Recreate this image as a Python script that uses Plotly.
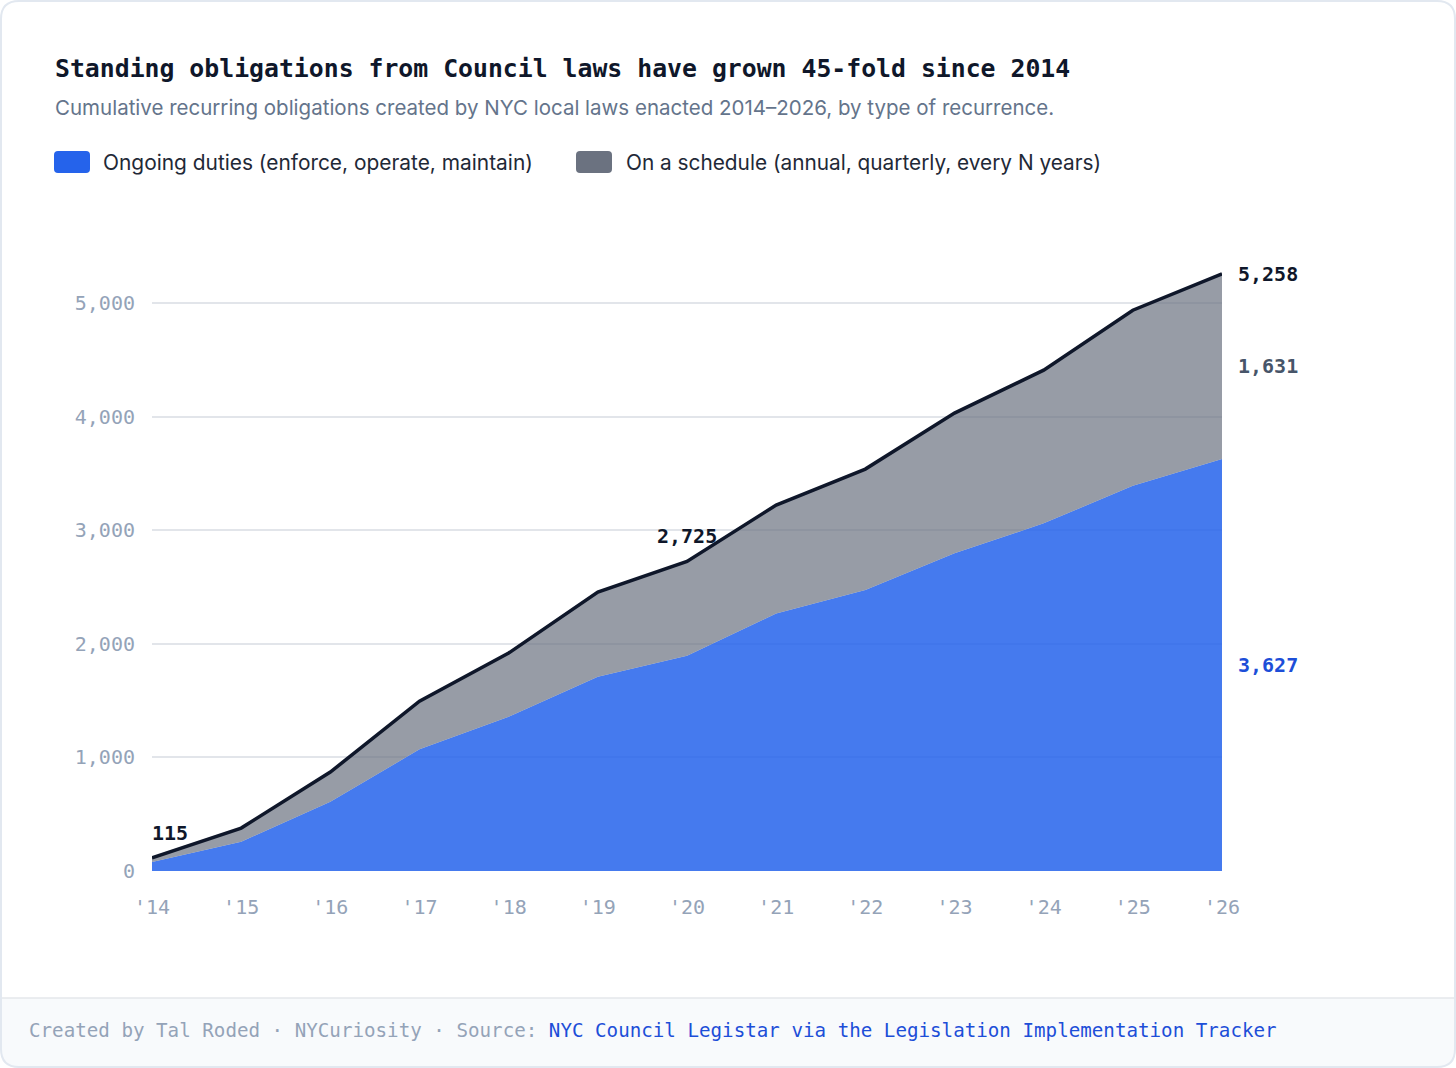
import plotly.graph_objects as go

# ---------------- data ----------------
years = [2014, 2015, 2016, 2017, 2018, 2019, 2020, 2021, 2022, 2023, 2024, 2025, 2026]
tick_labels = ["'14", "'15", "'16", "'17", "'18", "'19", "'20", "'21", "'22", "'23", "'24", "'25", "'26"]
ongoing = [80, 258, 610, 1071, 1358, 1710, 1895, 2268, 2474, 2797, 3061, 3392, 3627]
scheduled = [35, 120, 261, 425, 561, 746, 830, 954, 1065, 1235, 1349, 1546, 1631]
y_ticks = [0, 1000, 2000, 3000, 4000, 5000]

total = [a + b for a, b in zip(ongoing, scheduled)]

title = "Standing obligations from Council laws have grown 45-fold since 2014"
subtitle = "Cumulative recurring obligations created by NYC local laws enacted 2014\u20132026, by type of recurrence."
legend_labels = ["Ongoing duties (enforce, operate, maintain)",
                 "On a schedule (annual, quarterly, every N years)"]
footer_plain = "Created by Tal Roded \u00b7 NYCuriosity \u00b7 Source: "
footer_link = "NYC Council Legistar via the Legislation Implementation Tracker"

# ---------------- style ----------------
W, H = 1456, 1068
PL, PR = 152, 1222          # plot area left/right px
PT, PB = 235, 871           # plot area top/bottom px
MONO = "DejaVu Sans Mono"
SANS = "Inter"
BLUE = "#2563eb"
GRAY = "#6b7280"

def px(x):
    return (x - PL) / (PR - PL)

def py(y):
    return (PB - y) / (PB - PT)

fig = go.Figure()
fig.add_trace(go.Scatter(
    x=years, y=ongoing, mode="lines", line=dict(width=0, color=BLUE),
    fill="tozeroy", fillcolor="rgba(37,99,235,0.85)", hoverinfo="skip", showlegend=False))
fig.add_trace(go.Scatter(
    x=years, y=total, mode="lines", line=dict(width=0, color=GRAY),
    fill="tonexty", fillcolor="rgba(107,114,128,0.7)", hoverinfo="skip", showlegend=False))
fig.add_trace(go.Scatter(
    x=years, y=total, mode="lines", line=dict(width=3.5, color="#0f172a"),
    hoverinfo="skip", showlegend=False))

shapes = []
r = 18
x0, x1, y0, y1 = 1, W - 1, 1, H - 1

def rounded(x0, y0, x1, y1, r):
    return (f"M {px(x0 + r)},{py(y0)} L {px(x1 - r)},{py(y0)} Q {px(x1)},{py(y0)} {px(x1)},{py(y0 + r)} "
            f"L {px(x1)},{py(y1 - r)} Q {px(x1)},{py(y1)} {px(x1 - r)},{py(y1)} "
            f"L {px(x0 + r)},{py(y1)} Q {px(x0)},{py(y1)} {px(x0)},{py(y1 - r)} "
            f"L {px(x0)},{py(y0 + r)} Q {px(x0)},{py(y0)} {px(x0 + r)},{py(y0)} Z")

def footer_path(x0, y0, x1, y1, r):
    return (f"M {px(x0)},{py(y0)} L {px(x1)},{py(y0)} L {px(x1)},{py(y1 - r)} "
            f"Q {px(x1)},{py(y1)} {px(x1 - r)},{py(y1)} L {px(x0 + r)},{py(y1)} "
            f"Q {px(x0)},{py(y1)} {px(x0)},{py(y1 - r)} Z")

shapes.append(dict(type="path", xref="paper", yref="paper", path=footer_path(x0, 998, x1, y1, r),
                   fillcolor="#f8fafc", line=dict(width=0), layer="below"))
shapes.append(dict(type="line", xref="paper", yref="paper", x0=px(x0), x1=px(x1), y0=py(998), y1=py(998),
                   line=dict(color="#e5e7eb", width=1.5), layer="below"))
shapes.append(dict(type="path", xref="paper", yref="paper", path=rounded(x0, y0, x1, y1, r),
                   fillcolor="rgba(0,0,0,0)", line=dict(color="#e2e8f0", width=2), layer="above"))

def swatch(xa, xb, ya, yb, rr, color):
    return dict(type="path", xref="paper", yref="paper", path=rounded(xa, ya, xb, yb, rr),
                fillcolor=color, line=dict(width=0))
shapes.append(swatch(54, 90, 151, 173, 4, BLUE))
shapes.append(swatch(576, 612, 151, 173, 4, GRAY))

annotations = [
    dict(text=f"<b>{title}</b>", x=px(53), y=py(69), xref="paper", yref="paper",
         xanchor="left", yanchor="middle", showarrow=False,
         font=dict(family=MONO, size=24.8, color="#0f172a")),
    dict(text=subtitle, x=px(53), y=py(107), xref="paper", yref="paper",
         xanchor="left", yanchor="middle", showarrow=False,
         font=dict(family=SANS, size=20.5, color="#64748b")),
    dict(text=legend_labels[0], x=px(101), y=py(162), xref="paper", yref="paper",
         xanchor="left", yanchor="middle", showarrow=False,
         font=dict(family=SANS, size=20.9, color="#1f2937")),
    dict(text=legend_labels[1], x=px(624), y=py(162), xref="paper", yref="paper",
         xanchor="left", yanchor="middle", showarrow=False,
         font=dict(family=SANS, size=20.8, color="#1f2937")),
    dict(text=f"<span style='color:#94a3b8'>{footer_plain}</span><span style='color:#1d4ed8'>{footer_link}</span>",
         x=px(27), y=py(1030), xref="paper", yref="paper",
         xanchor="left", yanchor="middle", showarrow=False,
         font=dict(family=MONO, size=19.2, color="#94a3b8")),
    dict(text=f"<b>{total[0]:,}</b>", x=years[0], y=total[0], xref="x", yref="y",
         xanchor="left", yanchor="middle", yshift=25, xshift=-2, showarrow=False,
         font=dict(family=MONO, size=20, color="#0f172a")),
    dict(text=f"<b>{total[6]:,}</b>", x=years[6], y=total[6], xref="x", yref="y",
         xanchor="center", yanchor="middle", yshift=26, showarrow=False,
         font=dict(family=MONO, size=20, color="#0f172a")),
    dict(text=f"<b>{total[-1]:,}</b>", x=years[-1], y=total[-1], xref="x", yref="y",
         xanchor="left", yanchor="middle", xshift=14, showarrow=False,
         font=dict(family=MONO, size=20, color="#0f172a")),
    dict(text=f"<b>{scheduled[-1]:,}</b>", x=years[-1], y=ongoing[-1] + scheduled[-1] / 2, xref="x", yref="y",
         xanchor="left", yanchor="middle", xshift=14, showarrow=False,
         font=dict(family=MONO, size=20, color="#475569")),
    dict(text=f"<b>{ongoing[-1]:,}</b>", x=years[-1], y=ongoing[-1] / 2, xref="x", yref="y",
         xanchor="left", yanchor="middle", xshift=14, showarrow=False,
         font=dict(family=MONO, size=20, color="#1d4ed8")),
]

fig.update_layout(
    width=W, height=H,
    margin=dict(l=PL, r=W - PR, t=PT, b=H - PB, pad=0),
    paper_bgcolor="white", plot_bgcolor="rgba(0,0,0,0)",
    showlegend=False,
    shapes=shapes, annotations=annotations,
    xaxis=dict(range=[years[0], years[-1]], tickmode="array", tickvals=years, ticktext=tick_labels,
               showgrid=False, zeroline=False, showline=False, ticks="",
               ticklabelstandoff=22,
               tickfont=dict(family=MONO, size=20, color="#94a3b8"), fixedrange=True),
    yaxis=dict(range=[0, 5600], tickmode="array", tickvals=y_ticks,
               ticktext=[f"{v:,}" for v in y_ticks],
               showgrid=True, gridcolor="#e2e5ea", gridwidth=1.5, zeroline=False, showline=False,
               ticks="", ticklabelstandoff=16,
               tickfont=dict(family=MONO, size=20, color="#94a3b8"), fixedrange=True),
)

fig.write_html("out.html", config={"displayModeBar": False},
               post_script="document.body.style.margin='0';document.body.style.padding='0';")
